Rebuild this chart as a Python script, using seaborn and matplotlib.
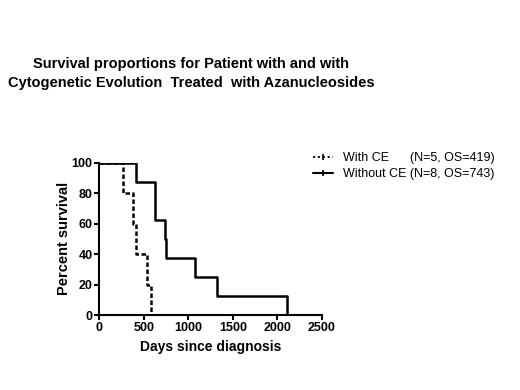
import pandas as pd
import matplotlib
matplotlib.use('Agg')
import matplotlib.pyplot as plt
import seaborn as sns
from matplotlib.lines import Line2D

# Kaplan-Meier step points
with_ce_days = [0, 268, 380, 415, 540, 575]
with_ce_surv = [100, 80, 60, 40, 20, 0]
without_ce_days = [0, 412, 620, 630, 740, 750, 1070, 1320, 2110]
without_ce_surv = [100, 87.5, 75, 62.5, 50, 37.5, 25, 12.5, 0]

labels = ['With CE      (N=5, OS=419)', 'Without CE (N=8, OS=743)']
x_ticks = [0, 500, 1000, 1500, 2000, 2500]
y_ticks = [0, 20, 40, 60, 80, 100]

sns.set_style('ticks')
plt.rcParams['font.family'] = ['Liberation Sans', 'DejaVu Sans']
plt.rcParams['text.color'] = 'black'
plt.rcParams['axes.labelcolor'] = 'black'
plt.rcParams['xtick.color'] = 'black'
plt.rcParams['ytick.color'] = 'black'
plt.rcParams['axes.edgecolor'] = 'black'

df_with = pd.DataFrame({'Days': with_ce_days, 'Survival': with_ce_surv})
df_without = pd.DataFrame({'Days': without_ce_days, 'Survival': without_ce_surv})

fig = plt.figure(figsize=(5.2, 3.9), dpi=100)
ax = fig.add_axes([0.191, 0.192, 0.428, 0.391])

sns.lineplot(data=df_with, x='Days', y='Survival', estimator=None, sort=False,
             drawstyle='steps-post', color='black', linewidth=1.8,
             linestyle=(0, (1.8, 1.0)), ax=ax)
sns.lineplot(data=df_without, x='Days', y='Survival', estimator=None, sort=False,
             drawstyle='steps-post', color='black', linewidth=1.8, ax=ax)

ax.set_xlim(0, 2500)
ax.set_ylim(0, 100)
ax.set_xticks(x_ticks)
ax.set_yticks(y_ticks)
ax.tick_params(direction='out', length=3.5, width=1.5, labelsize=9, pad=1.5)
for lab in ax.get_xticklabels() + ax.get_yticklabels():
    lab.set_fontweight('bold')
sns.despine(ax=ax)
for s in ['left', 'bottom']:
    ax.spines[s].set_linewidth(1.5)
ax.set_xlabel('Days since diagnosis', fontsize=10, fontweight='bold', labelpad=4)
ax.set_ylabel('Percent survival', fontsize=10.5, fontweight='bold', labelpad=0)

handles = [
    Line2D([0], [0], color='black', linewidth=1.3, linestyle=(0, (1.2, 1.5)),
           marker='|', markersize=5, markeredgewidth=1.2),
    Line2D([0], [0], color='black', linewidth=1.5,
           marker='|', markersize=5, markeredgewidth=1.2),
]
fig.legend(handles, labels, loc='upper left', bbox_to_anchor=(0.593, 0.622),
           frameon=False, fontsize=9, handlelength=1.6, handletextpad=0.75,
           labelspacing=0.3, borderaxespad=0)

fig.text(0.367, 0.812, 'Survival proportions for Patient with and with\n'
         'Cytogenetic Evolution  Treated  with Azanucleosides',
         ha='center', va='center', fontsize=10.5, fontweight='bold',
         linespacing=1.5)

fig.savefig('out.png', dpi=100)
